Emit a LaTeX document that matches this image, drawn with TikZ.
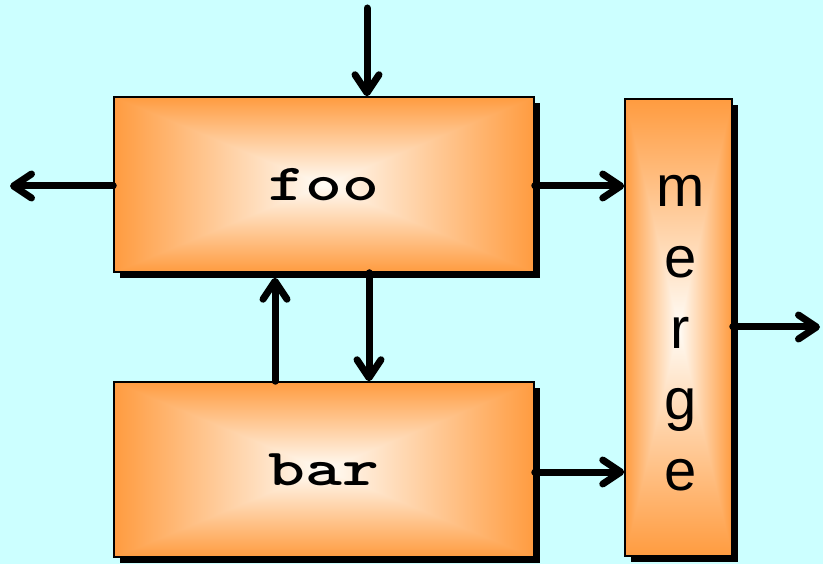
\documentclass[tikz,border=0pt]{standalone}
\usepackage{fontspec}
\usepackage{graphicx}
\setmainfont{Liberation Sans}
\usetikzlibrary{arrows.meta,shadows}

\definecolor{bgcyan}{HTML}{CCFFFF}

% orange rim fading to white towards the middle of the box
\pgfdeclarefunctionalshading{boxglow}{\pgfpoint{-50bp}{-50bp}}{\pgfpoint{50bp}{50bp}}{}{
  abs 25 div exch abs 25 div
  2 copy lt {exch} if pop
  dup 1 gt {pop 1} if
  dup 0.38 mul 0.99 exch sub
  exch 0.72 mul 0.97 exch sub
  1 3 1 roll
}

\newcommand\codeword[1]{\ttfamily\bfseries\fontsize{52}{54}\selectfont\scalebox{1.35}[1]{#1}}

\tikzset{
  box/.style={draw=black, line width=1.5pt, shading=boxglow, inner sep=0pt,
    drop shadow={shadow xshift=6pt, shadow yshift=-6pt, fill=black, opacity=1}},
  conn/.style={line width=7pt, line cap=round,
    -{Straight Barb[length=18pt,width=24pt,line width=7pt,round]}},
  mergetext/.style={align=center, inner sep=0pt, font=\fontsize{58}{71}\selectfont}
}

\begin{document}
\begin{tikzpicture}[x=1pt,y=-1pt]
  \fill[bgcyan] (0,0) rectangle (823,564);
  \useasboundingbox (0,0) rectangle (823,564);

  % blocks
  \node[box, minimum width=420pt, minimum height=175pt] (foo) at (324,184.5) {\codeword{foo}};
  \node[box, minimum width=420pt, minimum height=175pt] (bar) at (324,469.5) {\codeword{bar}};
  \node[box, minimum width=107pt, minimum height=457pt] (merge) at (678.5,327.5) {};
  \node[mergetext] (mergelabel) at ([xshift=2pt,yshift=-6pt]merge.center) {m\\e\\r\\g\\e};

  % free ends
  \coordinate (topin) at (367,8);
  \coordinate (leftout) at (10,186);
  \coordinate (rightout) at (820,327);

  % connectors
  \draw[conn] (topin) -- (topin |- foo.north);
  \draw[conn] (foo.west |- leftout) -- (leftout);
  \draw[conn] (foo.east |- 0,186) -- (merge.west |- 0,186);
  \draw[conn] (bar.east |- 0,472) -- (merge.west |- 0,472);
  \draw[conn, shorten >=5pt] (bar.north -| 275,0) -- (foo.south -| 275,0);
  \draw[conn] (foo.south -| 369,0) -- (bar.north -| 369,0);
  \draw[conn] (merge.east |- rightout) -- (rightout);
\end{tikzpicture}
\end{document}
